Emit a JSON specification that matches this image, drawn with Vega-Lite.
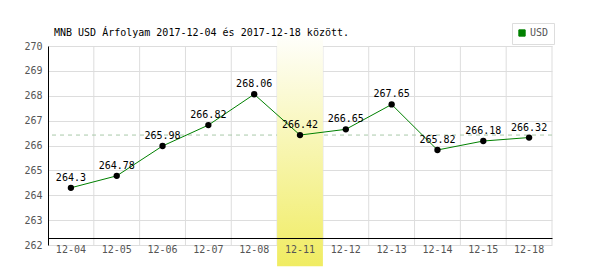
{
  "$schema": "https://vega.github.io/schema/vega-lite/v6.json",
  "autosize": "none",
  "width": 504,
  "height": 199,
  "padding": {"left": 48, "top": 46, "right": 48, "bottom": 25},
  "background": "white",
  "title": {
    "text": "MNB USD Árfolyam 2017-12-04 és 2017-12-18 között.",
    "anchor": "start",
    "frame": "group",
    "dx": 6,
    "offset": -25,
    "baseline": "bottom",
    "font": "DejaVu Sans Mono",
    "fontSize": 10,
    "fontWeight": "normal",
    "color": "#000"
  },
  "data": {
    "values": [
      {"date": "12-04", "rate": 264.3, "label": "264.3", "series": "USD", "highlight": false},
      {"date": "12-05", "rate": 264.78, "label": "264.78", "series": "USD", "highlight": false},
      {"date": "12-06", "rate": 265.98, "label": "265.98", "series": "USD", "highlight": false},
      {"date": "12-07", "rate": 266.82, "label": "266.82", "series": "USD", "highlight": false},
      {"date": "12-08", "rate": 268.06, "label": "268.06", "series": "USD", "highlight": false},
      {"date": "12-11", "rate": 266.42, "label": "266.42", "series": "USD", "highlight": true},
      {"date": "12-12", "rate": 266.65, "label": "266.65", "series": "USD", "highlight": false},
      {"date": "12-13", "rate": 267.65, "label": "267.65", "series": "USD", "highlight": false},
      {"date": "12-14", "rate": 265.82, "label": "265.82", "series": "USD", "highlight": false},
      {"date": "12-15", "rate": 266.18, "label": "266.18", "series": "USD", "highlight": false},
      {"date": "12-18", "rate": 266.32, "label": "266.32", "series": "USD", "highlight": false}
    ]
  },
  "config": {
    "view": {"stroke": null},
    "axis": {
      "labelFont": "DejaVu Sans Mono",
      "labelFontSize": 10,
      "labelColor": "#555",
      "gridColor": "#ddd",
      "gridWidth": 1,
      "domainColor": "#000",
      "domainWidth": 1,
      "ticks": false,
      "title": null,
      "labelOverlap": false
    }
  },
  "encoding": {
    "x": {
      "field": "date",
      "type": "ordinal",
      "scale": {"type": "band", "paddingInner": 0, "paddingOuter": 0},
      "axis": {
        "labelAngle": 0,
        "grid": false,
        "offset": -7,
        "labelPadding": 6,
        "zindex": 1
      }
    },
    "y": {
      "field": "rate",
      "type": "quantitative",
      "scale": {"domain": [262, 270], "nice": false, "zero": false},
      "axis": {"values": [262, 263, 264, 265, 266, 267, 268, 269, 270], "labelPadding": 6, "grid": true, "domain": true, "labelOverlap": false, "zindex": 0}
    }
  },
  "layer": [
    {
      "mark": {"type": "rule", "color": "#ddd", "strokeWidth": 1},
      "encoding": {
        "x": {"field": "date", "type": "ordinal", "bandPosition": 1},
        "y": null
      }
    },
    {
      "transform": [{"filter": "datum.highlight"}],
      "mark": {"type": "rule", "strokeDash": [4, 4], "color": "#a9c9a9", "strokeWidth": 1},
      "encoding": {
        "x": null
      }
    },
    {
      "transform": [{"filter": "datum.highlight"}],
      "mark": {
        "type": "rect",
        "fill": {
          "gradient": "linear",
          "x1": 0, "y1": 0, "x2": 0, "y2": 1,
          "stops": [
            {"offset": 0, "color": "#ffffff"},
            {"offset": 1, "color": "#f0ec62"}
          ]
        }
      },
      "encoding": {
        "y": {"datum": 270.65},
        "y2": {"datum": 261.15}
      }
    },
    {
      "mark": {"type": "line", "strokeWidth": 1},
      "encoding": {
        "color": {
          "field": "series",
          "type": "nominal",
          "scale": {"range": ["#008000"]},
          "legend": {
            "title": null,
            "orient": "none",
            "legendX": 464,
            "legendY": -23,
            "padding": 5,
            "strokeColor": "#ddd",
            "labelFont": "DejaVu Sans Mono",
            "labelFontSize": 10,
            "labelColor": "#555",
            "symbolSize": 40,
            "labelOffset": 3,
            "encode": {
              "symbols": {
                "update": {
                  "shape": {"value": "square"},
                  "fill": {"value": "#008000"},
                  "stroke": {"value": "#444"},
                  "strokeWidth": {"value": 1}
                }
              }
            }
          }
        }
      }
    },
    {
      "mark": {"type": "circle", "color": "#000", "opacity": 1, "size": 40}
    },
    {
      "mark": {"type": "text", "dy": -10, "baseline": "middle", "align": "center", "font": "DejaVu Sans Mono", "fontSize": 10, "color": "#000"},
      "encoding": {
        "text": {"field": "label"}
      }
    }
  ]
}
